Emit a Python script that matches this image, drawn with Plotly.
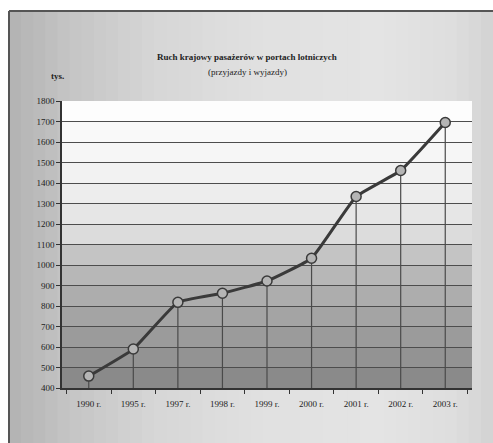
import plotly.graph_objects as go

years = ["1990 r.", "1995 r.", "1997 r.", "1998 r.", "1999 r.", "2000 r.", "2001 r.", "2002 r.", "2003 r."]
values = [458, 590, 818, 862, 922, 1033, 1334, 1461, 1695]
y_min, y_max, y_step = 400, 1800, 100
title_line1 = "Ruch krajowy pasażerów w portach lotniczych"
title_line2 = "(przyjazdy i wyjazdy)"
unit_label = "tys."

W, H = 493, 443
L, R, T, B = 62, 21, 101, 55
plot_w = W - L - R
plot_h = H - T - B

def px_x(px):
    return (px - L) / plot_w

def px_y(py):
    return (H - B - py) / plot_h

fig = go.Figure()

# drop lines from each point to the axis
dx, dy = [], []
for c, v in zip(years, values):
    dx += [c, c, None]
    dy += [y_min, v, None]
fig.add_trace(go.Scatter(x=dx, y=dy, mode="lines",
                         line=dict(color="#4a4a4a", width=1.2),
                         hoverinfo="skip", showlegend=False))

fig.add_trace(go.Scatter(x=years, y=values, mode="lines+markers",
                         line=dict(color="#3a3a3a", width=3, shape="spline", smoothing=0.35),
                         marker=dict(size=10, color="#b5b5b5",
                                     line=dict(color="#3a3a3a", width=1.5)),
                         showlegend=False))

shapes = []
# outer scanned frame background (smooth horizontal gradient, darker at left)
stops = [(0.0, 178), (0.12, 196), (0.3, 214), (0.5, 224), (0.75, 228), (0.92, 222), (1.0, 210)]
def grey_at(t):
    for (t0, g0), (t1, g1) in zip(stops[:-1], stops[1:]):
        if t0 <= t <= t1:
            return g0 + (g1 - g0) * (t - t0) / (t1 - t0)
    return stops[-1][1]
x_start = 9
n_seg = 40
seg = (W - x_start) / n_seg
for i in range(n_seg):
    g = int(round(grey_at((i + 0.5) / n_seg)))
    shapes.append(dict(type="rect", xref="paper", yref="paper",
                       x0=px_x(x_start + i * seg), x1=px_x(x_start + (i + 1) * seg + 1),
                       y0=px_y(H), y1=px_y(11), fillcolor=f"rgb({g},{g},{g})",
                       line=dict(width=0), layer="below"))
# frame border lines
shapes.append(dict(type="line", xref="paper", yref="paper", x0=px_x(9), x1=px_x(9),
                   y0=px_y(H), y1=px_y(11), line=dict(color="#555555", width=2), layer="below"))
shapes.append(dict(type="line", xref="paper", yref="paper", x0=px_x(9), x1=px_x(W),
                   y0=px_y(11), y1=px_y(11), line=dict(color="#555555", width=2), layer="below"))

# plot area gradient bands
n_bands = (y_max - y_min) // y_step
band_cols = ["#8a8a8a", "#939393", "#9b9b9b", "#a4a4a4", "#adadad", "#b7b7b7", "#c4c4c4",
             "#dcdcdc", "#e6e6e6", "#ededed", "#f2f2f2", "#f6f6f6", "#f9f9f9", "#fdfdfd"]
for i in range(n_bands):
    shapes.append(dict(type="rect", xref="x domain", yref="y domain",
                       x0=0, x1=1, y0=i / n_bands, y1=(i + 1) / n_bands,
                       fillcolor=band_cols[i], line=dict(width=0), layer="below"))

fig.update_layout(
    width=W, height=H,
    margin=dict(l=L, r=R, t=T, b=B),
    paper_bgcolor="#ffffff",
    plot_bgcolor="rgba(0,0,0,0)",
    font=dict(family="Liberation Serif", color="#222222", size=9),
    shapes=shapes,
    xaxis=dict(type="category", categoryorder="array", categoryarray=years,
               showgrid=False, showline=True, linecolor="#333333", linewidth=1.5,
               ticks="outside", tickson="boundaries", ticklen=4, tickcolor="#333333",
               ticklabelstandoff=6,
               tickfont=dict(size=9, family="Liberation Serif"), zeroline=False),
    yaxis=dict(range=[y_min, y_max], dtick=y_step, tick0=y_min,
               showgrid=True, gridcolor="#4d4d4d", gridwidth=1,
               showline=True, linecolor="#333333", linewidth=1.5,
               ticks="outside", ticklen=4, tickcolor="#333333",
               tickfont=dict(size=9, family="Liberation Serif"), zeroline=False),
    annotations=[
        dict(text="<b>" + title_line1 + "</b>", xref="paper", yref="paper",
             x=px_x(247), y=px_y(57), showarrow=False, xanchor="center", yanchor="middle",
             font=dict(size=9, family="Liberation Serif", color="#222222")),
        dict(text=title_line2, xref="paper", yref="paper",
             x=px_x(247), y=px_y(72), showarrow=False, xanchor="center", yanchor="middle",
             font=dict(size=9, family="Liberation Serif", color="#222222")),
        dict(text="<b>" + unit_label + "</b>", xref="paper", yref="paper",
             x=px_x(57), y=px_y(76), showarrow=False, xanchor="center", yanchor="middle",
             font=dict(size=9, family="Liberation Serif", color="#222222")),
    ],
)

fig.write_html("out.html")
